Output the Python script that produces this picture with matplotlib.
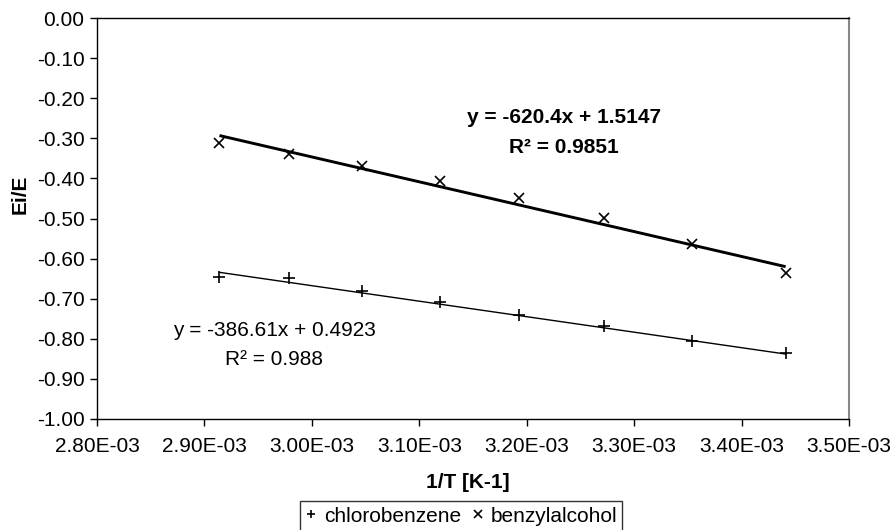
import numpy as np
import matplotlib
matplotlib.use("Agg")
import matplotlib.pyplot as plt
from matplotlib.ticker import FuncFormatter, FormatStrFormatter, MultipleLocator

plt.rcParams['font.family'] = ['Liberation Sans', 'DejaVu Sans']
plt.rcParams['axes.unicode_minus'] = False

# 1/T [K-1]
inv_T = [2.914e-3, 2.979e-3, 3.047e-3, 3.119e-3, 3.193e-3, 3.272e-3, 3.354e-3, 3.441e-3]
# Ei/E
chlorobenzene = [-0.647, -0.649, -0.680, -0.707, -0.741, -0.768, -0.805, -0.836]
benzylalcohol = [-0.311, -0.339, -0.369, -0.406, -0.448, -0.499, -0.564, -0.635]

# trendline coefficients (slope, intercept) as printed on the chart
fit_chloro = (-386.61, 0.4923)
fit_benzyl = (-620.4, 1.5147)

fig = plt.figure(figsize=(8.95, 5.30), dpi=100)
ax = fig.add_axes([97/895, 1-419/530, (849-97)/895, (419-18)/530])

x = np.array(inv_T)
xl = np.array([x.min(), x.max()])

# Trendlinien
ax.plot(xl, fit_benzyl[0]*xl + fit_benzyl[1], color='black', lw=2.1, solid_capstyle='butt', zorder=2)
ax.plot(xl, fit_chloro[0]*xl + fit_chloro[1], color='black', lw=1.0, zorder=2)

# Messpunkte
ax.plot(x, chlorobenzene, ls='none', marker='+', ms=8, mew=1.2, color='black', label='chlorobenzene', zorder=3)
ax.plot(x, benzylalcohol, ls='none', marker='x', ms=7, mew=1.2, color='black', label='benzylalcohol', zorder=3)

ax.set_xlim(2.8e-3, 3.5e-3)
ax.set_ylim(-1.0, 0.0)
ax.xaxis.set_major_locator(MultipleLocator(1e-4))
ax.yaxis.set_major_locator(MultipleLocator(0.1))
ax.xaxis.set_major_formatter(FuncFormatter(lambda v, p: "%.2E" % v))
ax.yaxis.set_major_formatter(FormatStrFormatter('%.2f'))
ax.tick_params(axis='both', direction='out', length=5, width=1, labelsize=15)
ax.tick_params(axis='x', pad=8)
ax.tick_params(axis='y', pad=4)
for s in ['left', 'bottom', 'top']:
    ax.spines[s].set_color('black')
    ax.spines[s].set_linewidth(1)
ax.spines['right'].set_color('#888888')
ax.spines['right'].set_linewidth(1.5)

ax.set_xlabel('1/T [K-1]', fontsize=15, fontweight='bold')
ax.xaxis.label.set_va('center')
ax.xaxis.set_label_coords((468-97)/752, (419-482)/401)
ax.set_ylabel('Ei/E', fontsize=15, fontweight='bold')
ax.yaxis.label.set_va('center')
ax.yaxis.set_label_coords((20-97)/752, 0.56)

# Gleichungen
ax.text(3.2348e-3, -0.247, 'y = -620.4x + 1.5147', ha='center', va='center', fontsize=15, fontweight='bold')
ax.text(3.2348e-3, -0.322, 'R² = 0.9851', ha='center', va='center', fontsize=15, fontweight='bold')
ax.text(2.9648e-3, -0.779, 'y = -386.61x + 0.4923', ha='center', va='center', fontsize=15)
ax.text(2.9648e-3, -0.852, 'R² = 0.988', ha='center', va='center', fontsize=15)

leg = fig.legend(loc='center', bbox_to_anchor=(461/895, 1-516/530), ncol=2, fontsize=15,
                 frameon=True, fancybox=False, edgecolor='black', handlelength=0.6,
                 handletextpad=0.3, columnspacing=0.5, borderpad=0.25, markerscale=0.8)
leg.get_frame().set_linewidth(1)

fig.savefig('out.png', dpi=100)
